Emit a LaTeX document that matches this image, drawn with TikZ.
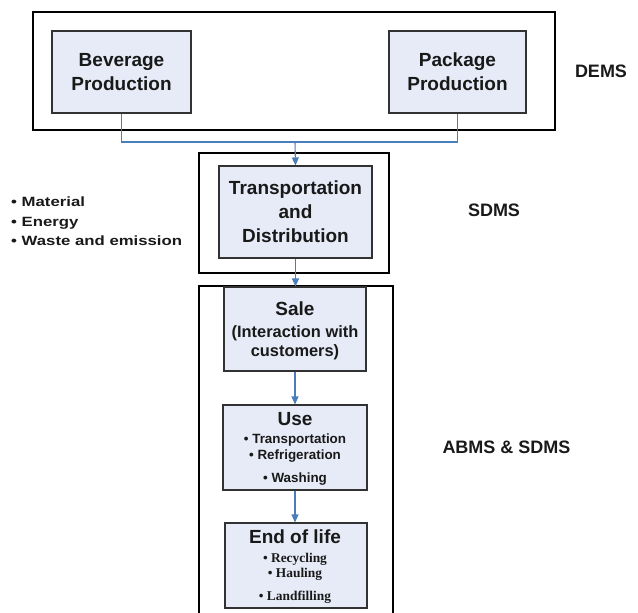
\documentclass[tikz,border=0pt]{standalone}
\usepackage{fontspec}
\setmainfont{Liberation Sans}
\newfontfamily\serifb{Liberation Serif}
\newfontfamily\wideb[FakeStretch=1.25]{Liberation Sans}
\usetikzlibrary{arrows.meta}
\definecolor{boxfill}{RGB}{230,235,247}
\definecolor{boxline}{RGB}{50,50,50}
\definecolor{connc}{RGB}{74,126,187}
\definecolor{txt}{RGB}{25,25,25}
\tikzset{
  outerbox/.style={draw=black, line width=2.4pt, inner sep=0pt},
  procbox/.style={draw=boxline, fill=boxfill, line width=1.1pt, inner sep=0pt},
  lbl/.style={anchor=base, inner sep=0pt, text=txt},
  titletxt/.style={lbl, font=\fontsize{19}{22}\selectfont\bfseries},
  sidetxt/.style={lbl, font=\fontsize{18}{21}\selectfont\bfseries},
  subtxt/.style={lbl, font=\fontsize{16.4}{19}\selectfont\bfseries},
  usetxt/.style={lbl, font=\fontsize{13.4}{16}\selectfont\bfseries},
  endtxt/.style={lbl, font=\fontsize{13.4}{16}\selectfont\serifb\bfseries},
  lefttxt/.style={lbl, anchor=base west, font=\fontsize{13.4}{16}\selectfont\wideb\bfseries},
  connline/.style={draw=connc, line width=1.1pt},
  connarrow/.style={connline, -{Triangle[length=8pt,width=7pt]}}
}
\begin{document}
\begin{tikzpicture}[x=1pt,y=-1pt]
\useasboundingbox (0,0) rectangle (638,613);
% outer frames
\node[outerbox, minimum width=522pt, minimum height=118pt] (dems) at (294,71) {};
\node[outerbox, minimum width=190pt, minimum height=120pt] (sdmsframe) at (294,213) {};
\node[outerbox, minimum width=194pt, minimum height=338pt] (abms) at (296,455) {};
% process boxes
\node[procbox, minimum width=139pt, minimum height=82pt] (bev) at (121.5,72) {};
\node[procbox, minimum width=137pt, minimum height=82pt] (pack) at (457.5,72) {};
\node[procbox, minimum width=153pt, minimum height=92pt] (trans) at (295.5,212) {};
\node[procbox, minimum width=142pt, minimum height=84pt] (sale) at (295,329) {};
\node[procbox, minimum width=144pt, minimum height=85pt] (use) at (295,447.5) {};
\node[procbox, minimum width=142pt, minimum height=85pt] (eol) at (296,565.5) {};
% connectors
\coordinate (j) at (295,142);
\draw[connline] (bev.south) -- (bev.south |- j) -| (pack.south);
\draw[connarrow] (j) -- (trans.north);
\draw[connarrow] (trans.south) -- (sale.north -| trans.south);
\draw[connarrow] (sale.south) -- (sale.south |- use.north);
\draw[connarrow] (use.south) -- (use.south |- eol.north);
% texts in boxes
\node[titletxt] (bev1) at (121.5,66) {Beverage};
\node[titletxt] (bev2) at (121.5,90) {Production};
\node[titletxt] (pack1) at (457.5,66) {Package};
\node[titletxt] (pack2) at (457.5,90) {Production};
\node[titletxt] (tr1) at (295.5,194) {Transportation};
\node[titletxt] (tr2) at (295.5,218) {and};
\node[titletxt] (tr3) at (295.5,242) {Distribution};
\node[titletxt] (sale1) at (295,315) {Sale};
\node[subtxt] (sale2) at (295,337) {(Interaction with};
\node[subtxt] (sale3) at (295,356) {customers)};
\node[titletxt] (use1) at (295,425) {Use};
\node[usetxt] (use2) at (295,443) {• Transportation};
\node[usetxt] (use3) at (295,459) {• Refrigeration};
\node[usetxt] (use4) at (295,482) {• Washing};
\node[titletxt] (eol1) at (295,543) {End of life};
\node[endtxt] (eol2) at (295,562) {• Recycling};
\node[endtxt] (eol3) at (295,577) {• Hauling};
\node[endtxt] (eol4) at (295,600) {• Landfilling};
% side labels
\node[sidetxt] (demslbl) at (601,77.5) {DEMS};
\node[sidetxt] (sdmslbl) at (494,216.5) {SDMS};
\node[sidetxt] (abmslbl) at (506.5,453) {ABMS \& SDMS};
\node[lefttxt] (l1) at (11,206) {• Material};
\node[lefttxt] (l2) at (11,226) {• Energy};
\node[lefttxt] (l3) at (11,245) {• Waste and emission};
\end{tikzpicture}
\end{document}
